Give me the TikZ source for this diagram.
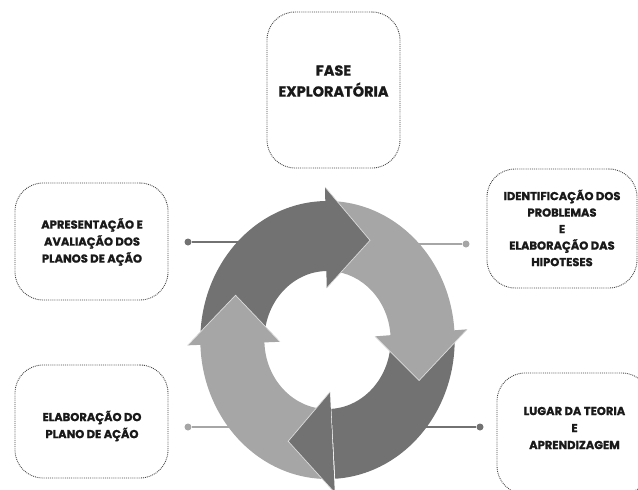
\documentclass[tikz,border=0pt]{standalone}
\usepackage{fontspec}
\newfontfamily\boxfont{Poppins}[BoldFeatures={FakeBold=1.2}]
\definecolor{ringdark}{RGB}{114,114,114}
\definecolor{ringlight}{RGB}{166,166,166}
\definecolor{boxline}{RGB}{70,70,70}
\definecolor{txt}{RGB}{25,25,25}
\begin{document}
\begin{tikzpicture}[x=1pt,y=-1pt,
  box/.style={draw=boxline, densely dotted, line width=0.9pt, rounded corners=28pt, inner sep=0pt},
  boxtext/.style={align=center, text=txt, inner sep=0pt, font=\boxfont\bfseries\fontsize{11.5}{17}\selectfont},
  dotdark/.style={circle, fill=ringdark, inner sep=0pt, minimum size=7pt},
  dotlight/.style={circle, fill=ringlight, inner sep=0pt, minimum size=7pt},
  linkdark/.style={draw=ringdark, line width=1.5pt},
  linklight/.style={draw=ringlight, line width=1.5pt},
  headedge/.style={draw=white!75!ringdark, line width=0.7pt, line join=miter}]
\useasboundingbox (0,0) rectangle (638,490);

% boxes
\node[box, minimum width=133pt, minimum height=156pt] (fase) at (333.5,90) {};
\node[boxtext, font=\boxfont\bfseries\fontsize{14.5}{21}\selectfont] (fasetxt) at (333.5,81) {FASE\\EXPLORATÓRIA};

\node[box, minimum width=153pt, minimum height=117pt] (apres) at (91.5,241.5) {};
\node[boxtext] (aprestxt) at (92,242) {APRESENTAÇÃO E\\AVALIAÇÃO DOS\\PLANOS DE AÇÃO};

\node[box, minimum width=150pt, minimum height=119pt] (ident) at (562,228.5) {};
\node[boxtext, font=\boxfont\bfseries\fontsize{11.5}{16.5}\selectfont] (identtxt) at (562,228) {IDENTIFICAÇÃO DOS\\PROBLEMAS\\E\\ELABORAÇÃO DAS\\HIPOTESES};

\node[box, minimum width=153pt, minimum height=113pt] (elab) at (91.5,421.5) {};
\node[boxtext] (elabtxt) at (92,426) {ELABORAÇÃO DO\\PLANO DE AÇÃO};

\node[box, minimum width=153pt, minimum height=121pt] (lugar) at (573.5,433.5) {};
\node[boxtext] (lugartxt) at (574.5,428) {LUGAR DA TEORIA\\E\\APRENDIZAGEM};

% connectors
\node[dotdark] (d1) at (188,242) {};
\coordinate (c1) at (250,242);
\draw[linkdark] (d1) -- (c1);
\node[dotlight] (d2) at (466,244) {};
\coordinate (c2) at (405,244);
\draw[linklight] (d2) -- (c2);
\node[dotlight] (d3) at (188,427) {};
\coordinate (c3) at (245,427);
\draw[linklight] (d3) -- (c3);
\node[dotdark] (d4) at (480,427) {};
\coordinate (c4) at (410,427);
\draw[linkdark] (d4) -- (c4);

% cycle arrows
\begin{scope}[shift={(327.5,340)}, yscale=-1, xscale=0.915]
  % bodies
  \fill[ringdark] (178:139) arc[start angle=178, end angle=90.5, radius=139] -- (90.5:69) arc[start angle=90.5, end angle=178, radius=69] -- cycle;
  \fill[ringlight] (87:139) arc[start angle=87, end angle=3.5, radius=139] -- (3.5:69) arc[start angle=3.5, end angle=87, radius=69] -- cycle;
  \fill[ringdark] (0:139) arc[start angle=0, end angle=-86.5, radius=139] -- (-86.5:69) arc[start angle=-86.5, end angle=0, radius=69] -- cycle;
  \fill[ringlight] (269:139) arc[start angle=269, end angle=181.5, radius=139] -- (181.5:69) arc[start angle=181.5, end angle=269, radius=69] -- cycle;
  % heads
  \fill[ringdark] (91:153) -- (65:110) -- (91:52) -- cycle;
  \draw[headedge] (91:153) -- (65:110) -- (91:52);
  \fill[ringlight] (4:153) -- (-22:108) -- (4:52) -- cycle;
  \draw[headedge] (4:153) -- (-22:108) -- (4:52);
  \fill[ringdark] (-87:153) -- (-113:110) -- (-87:52) -- cycle;
  \draw[headedge] (-87:153) -- (-113:110) -- (-87:52);
  \fill[ringlight] (182:153) -- (156:110) -- (182:52) -- cycle;
  \draw[headedge] (182:153) -- (156:110) -- (182:52);
\end{scope}
\end{tikzpicture}
\end{document}
